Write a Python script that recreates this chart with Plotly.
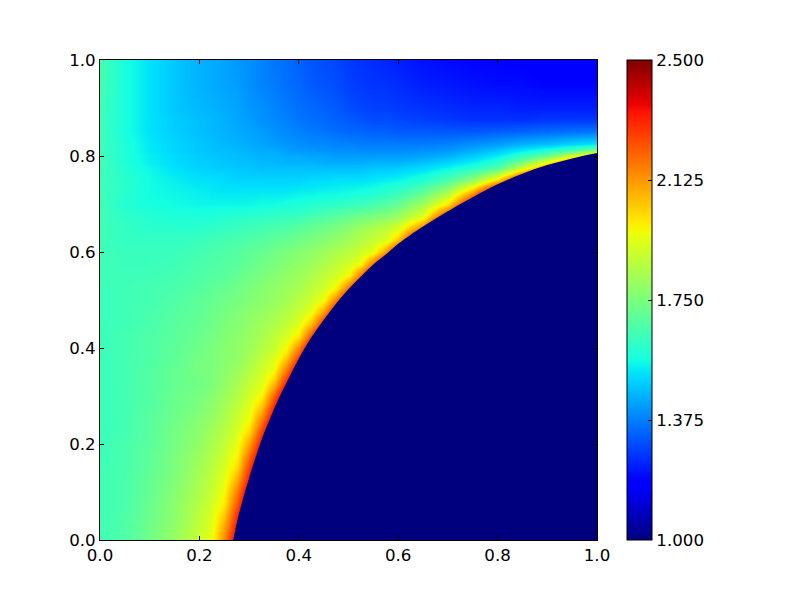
# external
import plotly.graph_objects as go


##########
# Inputs #
##########

x_grid = [0, 0.05, 0.1, 0.15, 0.2, 0.225, 0.25, 0.275, 0.3, 0.325, 0.35, 0.375, 0.4, 0.425, 0.45, 0.475, 0.5, 0.525, 0.55, 0.575, 0.6, 0.65, 0.7, 0.75, 0.8, 0.85, 0.9, 0.95, 1.0]
y_grid = [0, 0.025, 0.05, 0.075, 0.1, 0.125, 0.15, 0.175, 0.2, 0.225, 0.25, 0.275, 0.3, 0.325, 0.35, 0.375, 0.4, 0.425, 0.45, 0.475, 0.5, 0.525, 0.55, 0.575, 0.6, 0.625, 0.65, 0.675, 0.7, 0.725, 0.75, 0.775, 0.7875, 0.8, 0.8125, 0.825, 0.85, 0.875, 0.9, 0.95, 1.0]

# Values, one row per y_grid entry.
# Cells under the dark region only have to keep rising towards it.
z_values = [
    [1.64, 1.67, 1.73, 1.80, 1.89, 1.96, 2.15, 2.40, 2.65, 2.90] + [3.0] * 19,
    [1.64, 1.67, 1.73, 1.79, 1.88, 1.94, 2.10, 2.35, 2.60, 2.85] + [3.0] * 19,
    [1.64, 1.67, 1.72, 1.78, 1.87, 1.93, 2.05, 2.30, 2.55, 2.80] + [3.0] * 19,
    [1.64, 1.66, 1.72, 1.78, 1.855, 1.91, 1.99, 2.23, 2.48, 2.73, 2.98] + [3.0] * 18,
    [1.64, 1.66, 1.71, 1.77, 1.84, 1.89, 1.965, 2.165, 2.415, 2.665, 2.915] + [3.0] * 18,
    [1.64, 1.66, 1.71, 1.76, 1.83, 1.88, 1.94, 2.09, 2.34, 2.59, 2.84] + [3.0] * 18,
    [1.64, 1.66, 1.70, 1.75, 1.82, 1.86, 1.92, 2.02, 2.27, 2.52, 2.77] + [3.0] * 18,
    [1.63, 1.66, 1.70, 1.75, 1.805, 1.85, 1.90, 1.975, 2.19, 2.44, 2.69, 2.94] + [3.0] * 17,
    [1.63, 1.66, 1.69, 1.74, 1.79, 1.835, 1.88, 1.945, 2.11, 2.36, 2.61, 2.86] + [3.0] * 17,
    [1.63, 1.65, 1.69, 1.74, 1.78, 1.82, 1.86, 1.92, 2.02, 2.27, 2.52, 2.77] + [3.0] * 17,
    [1.63, 1.65, 1.69, 1.73, 1.77, 1.80, 1.84, 1.895, 1.965, 2.17, 2.42, 2.67, 2.92] + [3.0] * 16,
    [1.63, 1.65, 1.68, 1.72, 1.755, 1.785, 1.825, 1.875, 1.93, 2.07, 2.32, 2.57, 2.82] + [3.0] * 16,
    [1.63, 1.65, 1.68, 1.72, 1.745, 1.77, 1.81, 1.85, 1.905, 1.98, 2.21, 2.46, 2.71, 2.96] + [3.0] * 15,
    [1.63, 1.65, 1.68, 1.71, 1.73, 1.755, 1.79, 1.83, 1.88, 1.93, 2.07, 2.32, 2.55, 2.80] + [3.0] * 15,
    [1.63, 1.65, 1.68, 1.71, 1.74, 1.755, 1.78, 1.81, 1.855, 1.905, 1.975, 2.19, 2.44, 2.69, 2.94] + [3.0] * 14,
    [1.63, 1.65, 1.67, 1.70, 1.74, 1.75, 1.77, 1.79, 1.83, 1.88, 1.925, 2.06, 2.305, 2.555, 2.805] + [3.0] * 14,
    [1.63, 1.65, 1.67, 1.70, 1.73, 1.75, 1.77, 1.79, 1.81, 1.85, 1.89, 1.96, 2.16, 2.41, 2.66, 2.91] + [3.0] * 13,
    [1.63, 1.65, 1.67, 1.69, 1.72, 1.74, 1.76, 1.78, 1.80, 1.83, 1.87, 1.92, 2.00, 2.245, 2.495, 2.745, 2.995] + [3.0] * 12,
    [1.63, 1.64, 1.66, 1.69, 1.71, 1.73, 1.75, 1.77, 1.79, 1.82, 1.84, 1.875, 1.93, 2.06, 2.31, 2.56, 2.81] + [3.0] * 12,
    [1.63, 1.64, 1.66, 1.68, 1.70, 1.72, 1.74, 1.76, 1.78, 1.80, 1.82, 1.85, 1.89, 1.945, 2.12, 2.37, 2.62, 2.87] + [3.0] * 11,
    [1.63, 1.64, 1.65, 1.67, 1.70, 1.71, 1.73, 1.74, 1.76, 1.78, 1.80, 1.82, 1.86, 1.895, 1.965, 2.17, 2.42, 2.67, 2.92] + [3.0] * 10,
    [1.63, 1.64, 1.65, 1.66, 1.68, 1.70, 1.71, 1.73, 1.75, 1.77, 1.79, 1.81, 1.83, 1.87, 1.905, 1.975, 2.20, 2.45, 2.70, 2.95] + [3.0] * 9,
    [1.64, 1.64, 1.64, 1.65, 1.67, 1.68, 1.69, 1.71, 1.73, 1.75, 1.77, 1.79, 1.81, 1.84, 1.875, 1.91, 1.98, 2.20, 2.45, 2.70, 2.95] + [3.0] * 8,
    [1.64, 1.63, 1.63, 1.64, 1.66, 1.67, 1.68, 1.69, 1.71, 1.73, 1.75, 1.77, 1.79, 1.81, 1.84, 1.875, 1.905, 1.975, 2.19, 2.44, 2.69, 3.0] + [3.0] * 7,
    [1.64, 1.63, 1.63, 1.63, 1.65, 1.66, 1.67, 1.68, 1.70, 1.71, 1.73, 1.75, 1.77, 1.79, 1.81, 1.84, 1.865, 1.90, 1.945, 2.12, 2.37, 2.87] + [3.0] * 7,
    [1.64, 1.62, 1.62, 1.62, 1.63, 1.64, 1.65, 1.66, 1.67, 1.68, 1.70, 1.71, 1.73, 1.75, 1.77, 1.79, 1.82, 1.85, 1.885, 1.92, 2.05, 2.55, 3.0] + [3.0] * 6,
    [1.64, 1.62, 1.60, 1.60, 1.60, 1.61, 1.62, 1.63, 1.64, 1.65, 1.66, 1.67, 1.69, 1.71, 1.73, 1.75, 1.78, 1.81, 1.84, 1.87, 1.92, 2.17, 2.67] + [3.0] * 6,
    [1.64, 1.61, 1.59, 1.58, 1.58, 1.58, 1.59, 1.60, 1.60, 1.61, 1.62, 1.62, 1.63, 1.65, 1.67, 1.69, 1.71, 1.73, 1.75, 1.77, 1.80, 1.93, 2.30, 2.85] + [3.0] * 5,
    [1.64, 1.59, 1.57, 1.56, 1.55, 1.55, 1.55, 1.55, 1.55, 1.56, 1.56, 1.57, 1.58, 1.59, 1.60, 1.61, 1.62, 1.63, 1.65, 1.68, 1.71, 1.82, 2.00, 2.40, 2.90] + [3.0] * 4,
    [1.64, 1.60, 1.56, 1.55, 1.54, 1.53, 1.53, 1.53, 1.53, 1.53, 1.53, 1.53, 1.54, 1.54, 1.55, 1.55, 1.56, 1.57, 1.58, 1.60, 1.62, 1.70, 1.83, 2.10, 2.50, 2.95] + [3.0] * 3,
    [1.64, 1.60, 1.56, 1.54, 1.52, 1.52, 1.51, 1.50, 1.50, 1.50, 1.50, 1.50, 1.50, 1.51, 1.51, 1.52, 1.52, 1.52, 1.53, 1.54, 1.55, 1.59, 1.66, 1.79, 2.02, 2.42, 2.85, 3.0, 3.0],
    [1.64, 1.59, 1.55, 1.52, 1.50, 1.49, 1.49, 1.48, 1.48, 1.47, 1.47, 1.47, 1.47, 1.47, 1.47, 1.47, 1.47, 1.47, 1.48, 1.48, 1.49, 1.51, 1.55, 1.60, 1.68, 1.90, 2.17, 2.55, 2.90],
    [1.64, 1.58, 1.54, 1.51, 1.49, 1.49, 1.48, 1.47, 1.47, 1.46, 1.46, 1.45, 1.45, 1.45, 1.44, 1.44, 1.44, 1.44, 1.45, 1.45, 1.45, 1.47, 1.50, 1.54, 1.60, 1.74, 1.95, 2.20, 2.60],
    [1.64, 1.58, 1.54, 1.51, 1.49, 1.48, 1.47, 1.47, 1.46, 1.45, 1.45, 1.44, 1.44, 1.43, 1.43, 1.42, 1.42, 1.42, 1.42, 1.42, 1.42, 1.43, 1.45, 1.49, 1.54, 1.62, 1.72, 1.92, 2.12],
    [1.64, 1.58, 1.53, 1.50, 1.48, 1.47, 1.47, 1.46, 1.45, 1.44, 1.44, 1.42, 1.41, 1.41, 1.40, 1.40, 1.40, 1.39, 1.39, 1.39, 1.39, 1.40, 1.41, 1.44, 1.48, 1.53, 1.58, 1.65, 1.75],
    [1.64, 1.58, 1.53, 1.50, 1.48, 1.47, 1.46, 1.45, 1.44, 1.43, 1.42, 1.41, 1.40, 1.39, 1.39, 1.38, 1.38, 1.37, 1.37, 1.37, 1.37, 1.37, 1.38, 1.40, 1.42, 1.45, 1.47, 1.50, 1.53],
    [1.64, 1.57, 1.52, 1.49, 1.47, 1.46, 1.45, 1.44, 1.43, 1.42, 1.40, 1.39, 1.38, 1.37, 1.36, 1.35, 1.34, 1.34, 1.33, 1.33, 1.32, 1.32, 1.32, 1.32, 1.33, 1.34, 1.35, 1.36, 1.37],
    [1.64, 1.57, 1.52, 1.49, 1.47, 1.46, 1.45, 1.43, 1.42, 1.40, 1.39, 1.38, 1.36, 1.35, 1.34, 1.33, 1.32, 1.31, 1.30, 1.30, 1.29, 1.28, 1.27, 1.26, 1.26, 1.26, 1.27, 1.27, 1.27],
    [1.64, 1.57, 1.52, 1.48, 1.46, 1.45, 1.44, 1.43, 1.41, 1.40, 1.38, 1.37, 1.35, 1.34, 1.33, 1.32, 1.30, 1.29, 1.28, 1.28, 1.27, 1.26, 1.25, 1.24, 1.24, 1.23, 1.23, 1.23, 1.23],
    [1.65, 1.57, 1.52, 1.48, 1.45, 1.44, 1.43, 1.42, 1.40, 1.38, 1.37, 1.35, 1.34, 1.32, 1.31, 1.30, 1.28, 1.27, 1.26, 1.26, 1.25, 1.23, 1.22, 1.21, 1.20, 1.20, 1.19, 1.19, 1.19],
    [1.65, 1.57, 1.52, 1.48, 1.45, 1.44, 1.43, 1.41, 1.40, 1.38, 1.36, 1.35, 1.33, 1.31, 1.30, 1.29, 1.27, 1.26, 1.25, 1.24, 1.23, 1.21, 1.20, 1.19, 1.19, 1.18, 1.17, 1.17, 1.17],
]

# Edge of the dark region, walked from below the bottom axis to past the right axis,
# then round the outside so the spline corners stay clipped away
edge_x = [0.262, 0.268, 0.273, 0.2785, 0.285, 0.2915, 0.299, 0.306, 0.314, 0.322, 0.331, 0.341, 0.351, 0.362, 0.374, 0.386, 0.3985, 0.412, 0.427, 0.444, 0.462, 0.481, 0.502, 0.526, 0.551, 0.581, 0.6, 0.65, 0.7, 0.75, 0.8, 0.85, 0.9, 0.95, 1.0, 1.05, 1.3, 1.3, 0.2]
edge_y = [-0.03, 0, 0.025, 0.05, 0.075, 0.1, 0.125, 0.15, 0.175, 0.2, 0.225, 0.25, 0.275, 0.3, 0.325, 0.35, 0.375, 0.4, 0.425, 0.45, 0.475, 0.5, 0.525, 0.55, 0.575, 0.6, 0.617, 0.653, 0.685, 0.714, 0.741, 0.763, 0.781, 0.795, 0.806, 0.815, 0.84, -0.3, -0.3]

colorbar_ticks = [1.0, 1.375, 1.75, 2.125, 2.5]
axis_ticks = [0, 0.2, 0.4, 0.6, 0.8, 1.0]

jet = [
    [0.0, "rgb(0,0,127)"],
    [0.11, "rgb(0,0,255)"],
    [0.125, "rgb(0,0,255)"],
    [0.34, "rgb(0,219,255)"],
    [0.35, "rgb(0,229,247)"],
    [0.375, "rgb(20,255,226)"],
    [0.64, "rgb(238,255,8)"],
    [0.65, "rgb(247,246,0)"],
    [0.66, "rgb(255,236,0)"],
    [0.89, "rgb(255,19,0)"],
    [0.91, "rgb(232,0,0)"],
    [1.0, "rgb(127,0,0)"],
]


############
# Plotting #
############

font = dict(family="DejaVu Sans", size=16.67, color="black")

fig = go.Figure()

fig.add_trace(
    go.Heatmap(
        x=x_grid,
        y=y_grid,
        z=z_values,
        zmin=1.0,
        zmax=2.5,
        zsmooth="best",
        colorscale=jet,
        hoverinfo="skip",
        colorbar=dict(
            x=527 / 497,
            xanchor="left",
            xpad=0,
            ypad=0,
            y=0.5,
            yanchor="middle",
            len=1.0,
            thickness=25,
            outlinecolor="black",
            outlinewidth=1,
            ticks="inside",
            ticklen=4,
            tickcolor="black",
            tickvals=colorbar_ticks,
            ticktext=[f"{tick:.3f}" for tick in colorbar_ticks],
            tickfont=font,
        ),
    )
)

# Dark region below the edge
fig.add_trace(
    go.Scatter(
        x=edge_x,
        y=edge_y,
        mode="lines",
        fill="toself",
        fillcolor="rgb(0,0,127)",
        line=dict(color="rgb(0,0,127)", width=0, shape="spline"),
        showlegend=False,
        hoverinfo="skip",
    )
)

axis_style = dict(
    range=[0, 1],
    tickvals=axis_ticks,
    ticktext=[f"{tick:.1f}" for tick in axis_ticks],
    ticks="inside",
    ticklen=4,
    tickcolor="black",
    showline=True,
    linecolor="black",
    linewidth=1,
    mirror="ticks",
    showgrid=False,
    zeroline=False,
    tickfont=font,
)

# The page body adds 8 px on the left and top, so the margins take that off
fig.update_layout(
    width=792,
    height=592,
    margin=dict(l=92, r=203, t=52, b=60),
    paper_bgcolor="white",
    plot_bgcolor="white",
    showlegend=False,
    xaxis=axis_style,
    yaxis=axis_style,
)

fig.write_html("out.html")
